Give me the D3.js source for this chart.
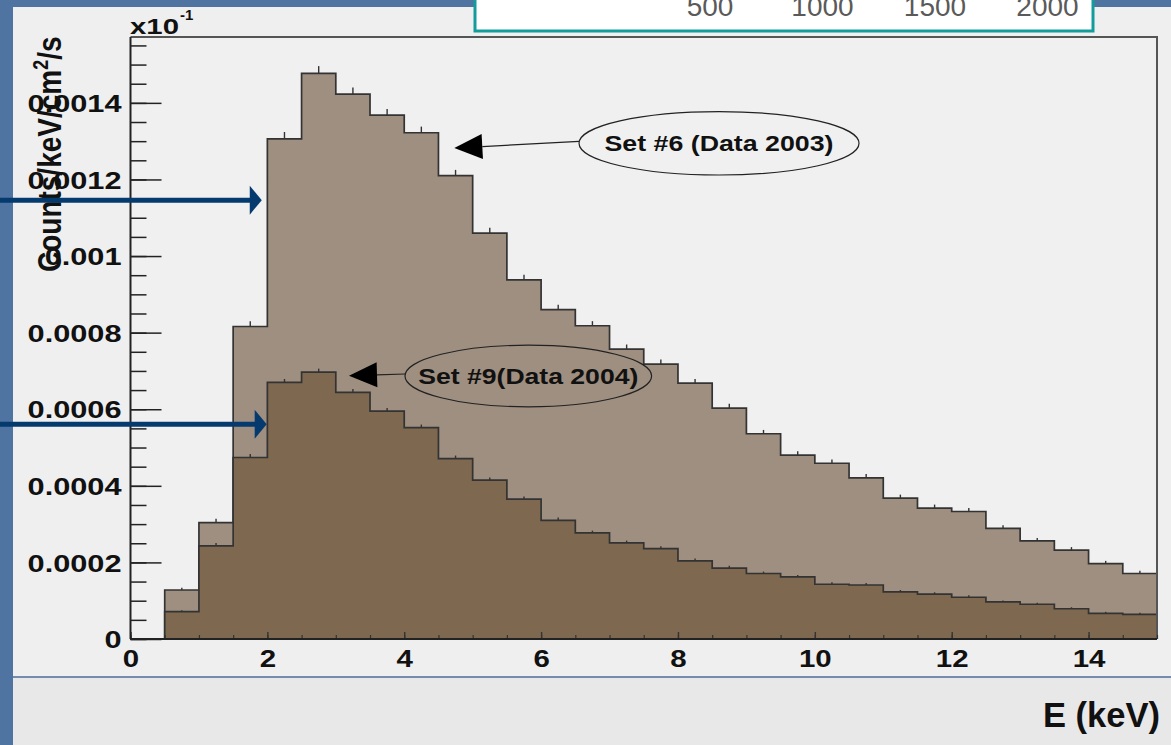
<!DOCTYPE html>
<html><head><meta charset="utf-8">
<script src="https://cdn.jsdelivr.net/npm/d3@7"></script>
<style>html,body{margin:0;padding:0;overflow:hidden;background:#4f74a2}</style>
</head><body><svg id="c" width="1171" height="745"></svg>
<script>
// ---- data ----
const binLow = [0.5,1,1.5,2,2.5,3,3.5,4,4.5,5,5.5,6,6.5,7,7.5,8,8.5,9,9.5,10,10.5,11,11.5,12,12.5,13,13.5,14,14.5];
const binWidth = 0.5;
const set6 = [0.000128,0.000304,0.000816,0.001306,0.001477,0.001423,0.001368,0.001322,0.00121,0.00106,0.000938,0.00086,0.000818,0.000757,0.000718,0.000668,0.000603,0.000536,0.00048,0.000459,0.000421,0.000368,0.000342,0.000333,0.000289,0.000256,0.000232,0.000197,0.000171];
const set6Err = [0.000006,0.00001,0.000014,0.000018,0.000019,0.000017,0.000016,0.000016,0.000015,0.000014,0.000013,0.000013,0.000012,0.000012,0.000012,0.000011,0.000011,0.00001,0.00001,0.00001,0.00001,0.000009,0.000009,0.000009,0.000008,0.000008,0.000008,0.000007,0.000007];
const set9 = [0.0000713,0.000243,0.000474,0.00067,0.000697,0.000644,0.000595,0.000552,0.000471,0.000415,0.000365,0.00031,0.000277,0.000251,0.000236,0.000204,0.000185,0.000171,0.000162,0.000143,0.000141,0.000123,0.000117,0.000109,0.0000968,0.0000908,0.000079,0.000067,0.0000644];
const set9Err = [0.000004,0.000008,0.000009,0.000009,0.000009,0.000009,0.000008,0.000008,0.000008,0.000007,0.000007,0.000007,0.000006,0.000006,0.000006,0.000006,0.000006,0.000005,0.000005,0.000005,0.000005,0.000005,0.000005,0.000005,0.000004,0.000004,0.000004,0.000004,0.000004];
const xTickValues = [0,2,4,6,8,10,12,14];
const xTickLabels = ["0","2","4","6","8","10","12","14"];
const yTickValues = [0,0.0002,0.0004,0.0006,0.0008,0.001,0.0012,0.0014];
const yTickLabels = ["0","0.0002","0.0004","0.0006","0.0008","0.001","0.0012","0.0014"];
const boxTickValues = [500,1000,1500,2000];
const boxTickLabels = ["500","1000","1500","2000"];
const annotations = [
  {text:"Set #6 (Data 2003)", cE:8.6, cV:0.0012944, tipE:4.732, tipV:0.001282, rx:140, ry:31.7, len:229},
  {text:"Set #9(Data 2004)", cE:5.813, cV:0.0006868, tipE:3.193, tipV:0.0006876, rx:123.3, ry:30.8, len:220}
];
const blueArrows = [{tipE:1.918, tipV:0.001146},{tipE:1.99, tipV:0.000561}];

// ---- layout ----
const W=1171,H=745;
const FONT='Liberation Sans, Arial, sans-serif';
const svg = d3.select('#c');
const x = d3.scaleLinear([0,15],[130.5,1157]);
const y = d3.scaleLinear([0,0.001572],[639,37]);

function widen(sel, f){
  sel.each(function(){
    const w=this.getComputedTextLength();
    d3.select(this).attr('textLength',w*f).attr('lengthAdjust','spacingAndGlyphs');
  });
}

// background
svg.append('rect').attr('width',W).attr('height',H).attr('fill','#4f74a2');
svg.append('rect').attr('x',13).attr('y',7).attr('width',W-13).attr('height',H-7).attr('fill','#efefef');
svg.append('rect').attr('x',13).attr('y',677).attr('width',W-13).attr('height',68).attr('fill','#e8e8e8');
svg.append('line').attr('x1',13).attr('x2',W).attr('y1',677).attr('y2',677).attr('stroke','#4d6d9a').attr('stroke-width',1.3);

// top box (partial other chart)
svg.append('rect').attr('x',475).attr('y',-10).attr('width',618).attr('height',41)
  .attr('fill','#ffffff').attr('stroke','#139c9c').attr('stroke-width',3);
const bx = d3.scaleLinear([500,2000],[710,1047.5]);
svg.append('g').selectAll('text').data(boxTickValues).join('text')
  .attr('x',d=>bx(d)).attr('y',16).attr('text-anchor','middle')
  .attr('font-family',FONT).attr('font-size',28)
  .attr('fill','#5a5a5a').text((d,i)=>boxTickLabels[i]);

// frame
svg.append('rect').attr('x',x(0)).attr('y',y(0.001572)).attr('width',x(15)-x(0)).attr('height',y(0)-y(0.001572)).attr('fill','#f0f0f0');

// histograms
function stepPoints(vals){
  const pts=[[0,0],[binLow[0],0]];
  vals.forEach((v,i)=>{pts.push([binLow[i],v]);pts.push([binLow[i]+binWidth,v]);});
  pts.push([binLow[binLow.length-1]+binWidth,0]);
  return pts;
}
const area = d3.area().x(d=>x(d[0])).y0(y(0)).y1(d=>y(d[1]));
const line = d3.line().x(d=>x(d[0])).y(d=>y(d[1]));
function drawHist(vals, errs, fill){
  const g = svg.append('g');
  const pts = stepPoints(vals);
  g.append('path').attr('d',area(pts)).attr('fill',fill);
  g.append('path').attr('d',line(pts)).attr('fill','none').attr('stroke','#333').attr('stroke-width',1.7);
  g.selectAll('line.err').data(vals).join('line').attr('class','err')
    .attr('x1',(d,i)=>x(binLow[i]+binWidth/2)).attr('x2',(d,i)=>x(binLow[i]+binWidth/2))
    .attr('y1',d=>y(d)).attr('y2',(d,i)=>y(d+errs[i]))
    .attr('stroke','#333').attr('stroke-width',1.4);
}
drawHist(set6,set6Err,'#9e8f80');
drawHist(set9,set9Err,'#7e6850');

// frame lines top & right
svg.append('path').attr('d',`M${x(0)},${y(0.001572)}H${x(15)}V${y(0)}`).attr('fill','none').attr('stroke','#555').attr('stroke-width',2);

// y axis
const yMinor = d3.range(0,0.00156,0.00005);
const gy1 = svg.append('g').attr('transform',`translate(${x(0)},0)`)
  .call(d3.axisRight(y).tickValues(yMinor).tickSize(16).tickFormat(''));
gy1.select('.domain').remove();
const gy2 = svg.append('g').attr('transform',`translate(${x(0)},0)`)
  .call(d3.axisRight(y).tickValues(yTickValues).tickSize(31).tickFormat(''));
gy2.select('.domain').remove();
svg.selectAll('.tick line').attr('stroke','#222').attr('stroke-width',1.5);
const gyl = svg.append('g').attr('transform',`translate(${x(0)},0)`)
  .call(d3.axisLeft(y).tickValues(yTickValues).tickSize(0).tickPadding(9).tickFormat((d,i)=>yTickLabels[i]));
gyl.select('.domain').remove();
gyl.selectAll('text').attr('font-family',FONT).attr('font-weight','bold').attr('font-size',24).attr('fill','#111').attr('dy','0.36em');
widen(gyl.selectAll('text'),1.28);

// x axis
const xMinor = d3.range(0,15.01,0.5);
const gx1 = svg.append('g').attr('transform',`translate(0,${y(0)})`)
  .call(d3.axisTop(x).tickValues(xMinor).tickSize(4).tickFormat(''));
gx1.select('.domain').remove();
const gx2 = svg.append('g').attr('transform',`translate(0,${y(0)})`)
  .call(d3.axisTop(x).tickValues(xTickValues).tickSize(7).tickFormat(''));
gx2.select('.domain').remove();
gx1.selectAll('.tick line').attr('stroke','#333').attr('stroke-width',1.2);
gx2.selectAll('.tick line').attr('stroke','#333').attr('stroke-width',1.4);
const gxl = svg.append('g').attr('transform',`translate(0,${y(0)})`)
  .call(d3.axisBottom(x).tickValues(xTickValues).tickSize(0).tickPadding(12).tickFormat((d,i)=>xTickLabels[i]));
gxl.select('.domain').remove();
gxl.selectAll('text').attr('font-family',FONT).attr('font-weight','bold').attr('font-size',23).attr('fill','#111');
widen(gxl.selectAll('text'),1.28);

// axis lines
svg.append('line').attr('x1',x(0)).attr('x2',x(0)).attr('y1',y(0.001572)).attr('y2',y(0)).attr('stroke','#222').attr('stroke-width',2);
svg.append('line').attr('x1',x(0)).attr('x2',x(15)).attr('y1',y(0)).attr('y2',y(0)).attr('stroke','#222').attr('stroke-width',2);

// exponent label
svg.append('text').attr('x',130).attr('y',33.5).attr('font-family',FONT)
  .attr('font-weight','bold').attr('font-size',22).attr('fill','#111')
  .attr('textLength',49).attr('lengthAdjust','spacingAndGlyphs').text('x10');
svg.append('text').attr('x',180).attr('y',20).attr('font-family',FONT)
  .attr('font-weight','bold').attr('font-size',15).attr('fill','#111').text('-1');

// y title
const yt = svg.append('text').attr('transform','translate(61,272) scale(1.2,1) rotate(-90)')
  .attr('font-family',FONT).attr('font-weight','bold')
  .attr('font-size',28).attr('fill','#111');
yt.append('tspan').text('Counts/keV/cm');
yt.append('tspan').attr('dy',-11).attr('font-size',18).text('2');
yt.append('tspan').attr('dy',11).text('/s');

// x title
svg.append('text').attr('x',1043).attr('y',727).attr('font-family',FONT)
  .attr('font-weight','bold').attr('font-size',35).attr('fill','#111')
  .attr('textLength',117).attr('lengthAdjust','spacingAndGlyphs').text('E (keV)');

// annotations
annotations.forEach(a=>{
  const cx=x(a.cE), cy=y(a.cV), tx=x(a.tipE), ty=y(a.tipV);
  const g=svg.append('g');
  g.append('ellipse').attr('cx',cx).attr('cy',cy).attr('rx',a.rx).attr('ry',a.ry)
    .attr('fill','none').attr('stroke','#222').attr('stroke-width',1.2);
  g.append('text').attr('x',cx).attr('y',cy+8).attr('text-anchor','middle')
    .attr('font-family',FONT).attr('font-weight','bold').attr('font-size',22.5)
    .attr('fill','#111').attr('textLength',a.len).attr('lengthAdjust','spacingAndGlyphs').text(a.text);
  const sx=cx-a.rx, sy=cy-2;
  const dx=sx-tx, dy=sy-ty, L=Math.hypot(dx,dy), ux=dx/L, uy=dy/L;
  const bxp=tx+ux*28, byp=ty+uy*28;
  g.append('line').attr('x1',sx).attr('y1',sy).attr('x2',bxp).attr('y2',byp).attr('stroke','#222').attr('stroke-width',1.2);
  g.append('path').attr('d',`M${tx},${ty}L${bxp-uy*12.5},${byp+ux*12.5}L${bxp+uy*12.5},${byp-ux*12.5}Z`).attr('fill','#000');
});

// blue slide arrows
blueArrows.forEach(b=>{
  const tx=x(b.tipE), ty=y(b.tipV);
  svg.append('line').attr('x1',0).attr('x2',tx-10).attr('y1',ty).attr('y2',ty).attr('stroke','#053a6f').attr('stroke-width',5);
  svg.append('path').attr('d',`M${tx},${ty}L${tx-12},${ty-14.5}L${tx-12},${ty+14.5}Z`).attr('fill','#053a6f');
});
</script></body></html>
